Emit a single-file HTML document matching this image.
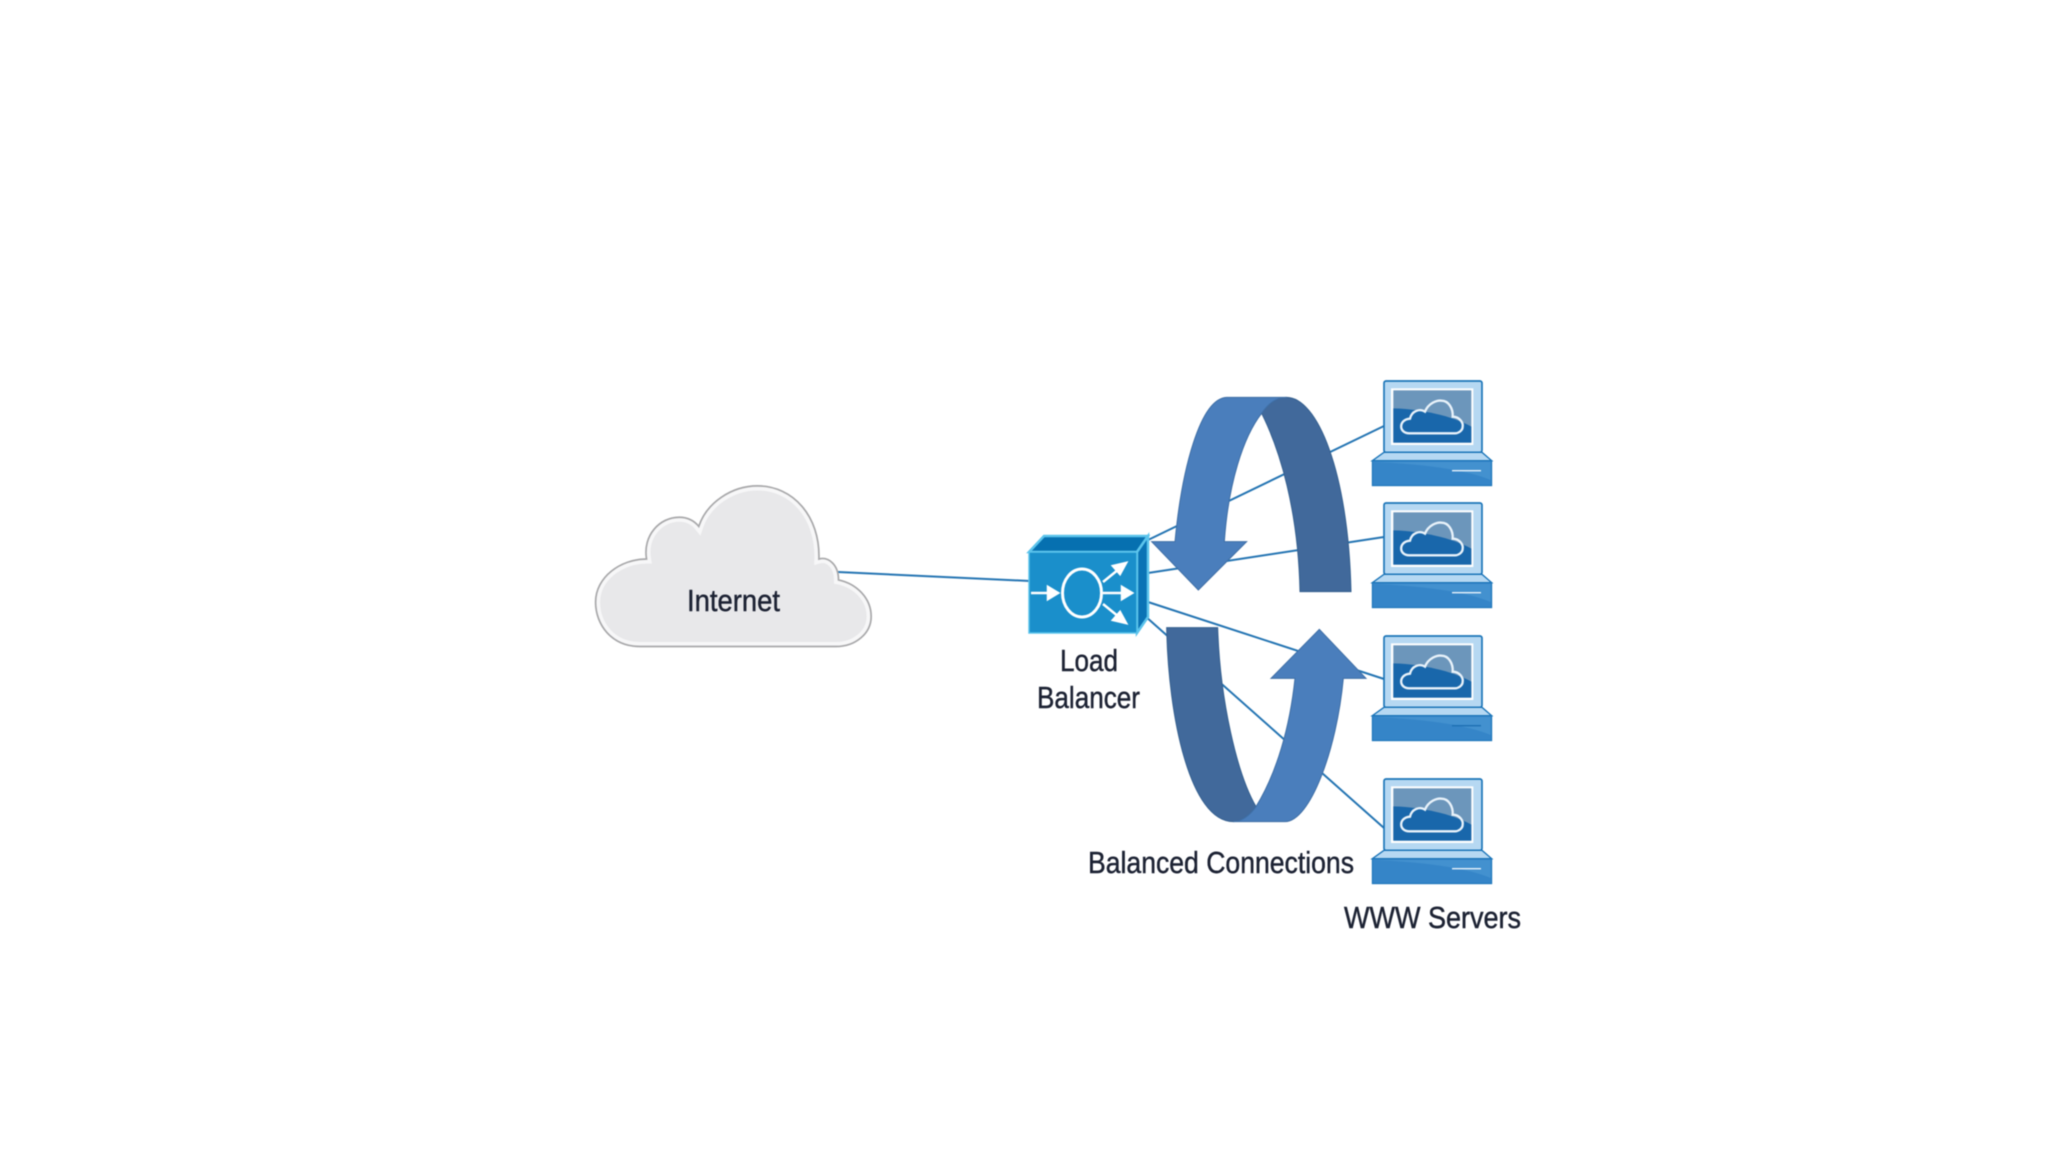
<!DOCTYPE html>
<html>
<head>
<meta charset="utf-8">
<style>
html,body{margin:0;padding:0;background:#fff;width:2048px;height:1152px;overflow:hidden}
svg{display:block;filter:blur(.5px)}
text{font-family:"Liberation Sans Narrow","Liberation Sans",sans-serif;fill:#1c2233;font-size:31px;stroke:#1c2233;stroke-width:.45}
</style>
</head>
<body>
<svg width="2048" height="1152" viewBox="0 0 2048 1152" xmlns="http://www.w3.org/2000/svg">
<defs>
<path id="cl" d="M490,495 C468,495 456,478 456,461 C456,442 475,428 495,428 C492,410 505,396 520,396 C526,396 531,398 535,403 C541,385 560,372 580,372 C607,372 628,395 627,428 C634,426 642,432 642,444 C656,447 667,458 667,472 C667,485 655,495 640,495 Z"/>
<clipPath id="cc"><use href="#cl"/></clipPath>
<g id="top">
<rect x="762" y="33" width="294" height="214" rx="6" fill="#b6d8f2" stroke="#1a74b8" stroke-width="5"/>
<rect x="783" y="55" width="247" height="170" fill="#fff"/>
<rect x="790" y="61" width="234" height="157" fill="#6c96bb"/>
<path d="M790,115 C870,118 960,135 1024,170 L1024,218 L790,218Z" fill="#1967ab"/>
<path d="M838,190 C805,190 805,148 840,146 C845,122 870,115 885,125 C895,100 920,90 935,92 C955,92 970,115 968,140 C990,140 1000,160 998,170 C998,182 985,190 975,190Z" fill="none" stroke="#e8f2fa" stroke-width="7"/>
<path d="M762,247 L1056,247 L1085,272 L727,272Z" fill="#b6d8f2" stroke="#1a74b8" stroke-width="4"/>
<rect x="727" y="272" width="358" height="75" fill="#3585c8" stroke="#1a74b8" stroke-width="3"/>
<path d="M730,276 C850,280 1000,295 1082,330 L1082,276Z" fill="#4f9ad6" opacity=".55"/>
</g>
</defs>

<!-- connectors -->
<g stroke="#2575b3" stroke-width="2" fill="none">
<line x1="838" y1="572" x2="1030" y2="581"/>
<line x1="1148" y1="540" x2="1384" y2="426"/>
<line x1="1148" y1="573" x2="1384" y2="537"/>
<line x1="1148" y1="602" x2="1384" y2="679"/>
<line x1="1145" y1="616" x2="1384" y2="828"/>
</g>

<!-- cloud -->
<g transform="scale(1.3061)">
<use href="#cl" fill="#e8e8ea"/>
<use href="#cl" fill="none" stroke="#f7f7f8" stroke-width="7" clip-path="url(#cc)"/>
<use href="#cl" fill="none" stroke="#a8a8aa" stroke-width="1.3"/>
</g>
<text x="687" y="611" textLength="93" lengthAdjust="spacingAndGlyphs">Internet</text>

<!-- load balancer -->
<path d="M1029,552 L1044,536 L1148,536 L1137,552Z" fill="#0670b0" stroke="#5cc4ec" stroke-width="2.5"/>
<path d="M1137,552 L1148,536 L1148,617 L1137,633Z" fill="#0a73b5" stroke="#5cc4ec" stroke-width="2.5"/>
<rect x="1029" y="552" width="108" height="81" fill="#1a8fcb" stroke="#5cc4ec" stroke-width="1.5"/>
<ellipse cx="1082" cy="593" rx="19.5" ry="24" fill="none" stroke="#fff" stroke-width="3"/>
<g stroke="#fff" stroke-width="2.5" fill="#fff">
<line x1="1031" y1="593" x2="1050" y2="593"/><path d="M1058,593 L1048,587 L1048,599Z"/>
<line x1="1103" y1="593" x2="1124" y2="593"/><path d="M1132,593 L1122,587 L1122,599Z"/>
<line x1="1103" y1="582" x2="1119" y2="569"/><path d="M1126,563 L1113,566 L1120,574Z"/>
<line x1="1103" y1="604" x2="1119" y2="617"/><path d="M1126,623 L1113,620 L1120,612Z"/>
</g>
<text x="1060" y="671" textLength="58" lengthAdjust="spacingAndGlyphs">Load</text>
<text x="1037" y="708" textLength="103" lengthAdjust="spacingAndGlyphs">Balancer</text>

<!-- upper arrow -->
<g transform="translate(1130,370) scale(.33333)" stroke-width="3">
<path d="M395,130 C415,100 440,82 470,82 C560,82 655,300 663,665 L510,665 C505,420 450,240 395,130Z" fill="#41699b" stroke="#35608f"/>
<path d="M470,82 L290,82 C210,85 155,300 135,515 L65,515 L205,660 L350,515 L283,515 C295,340 340,200 395,130 C415,100 440,82 470,82Z" fill="#4a7ebc" stroke="#3f6fa6"/>
</g>

<!-- lower arrow -->
<g transform="translate(1130,600) scale(.33333)" stroke-width="3">
<path d="M110,83 L263,83 C270,300 320,520 378,620 C360,645 335,665 310,665 C180,665 115,350 110,83Z" fill="#41699b" stroke="#35608f"/>
<path d="M310,665 L465,665 C540,665 620,450 640,235 L708,235 L568,88 L423,235 L495,235 C480,380 440,520 378,620 C360,645 335,665 310,665Z" fill="#4a7ebc" stroke="#3f6fa6"/>
</g>

<!-- laptops -->
<g transform="translate(1130,370) scale(.33333)"><use href="#top"/><line x1="966" y1="302" x2="1053" y2="302" stroke="#e8f2fa" stroke-width="4"/></g>
<g transform="translate(1130,492) scale(.33333)"><use href="#top"/><line x1="966" y1="302" x2="1053" y2="302" stroke="#e8f2fa" stroke-width="4"/></g>
<g transform="translate(1130,625) scale(.33333)"><use href="#top"/><line x1="966" y1="302" x2="1053" y2="302" stroke="#1d6fb3" stroke-width="4"/></g>
<g transform="translate(1130,768) scale(.33333)"><use href="#top"/><line x1="966" y1="302" x2="1053" y2="302" stroke="#e8f2fa" stroke-width="4"/></g>

<text x="1088" y="873" textLength="266" lengthAdjust="spacingAndGlyphs">Balanced Connections</text>
<text x="1344" y="928" textLength="177" lengthAdjust="spacingAndGlyphs">WWW Servers</text>
</svg>
</body>
</html>
